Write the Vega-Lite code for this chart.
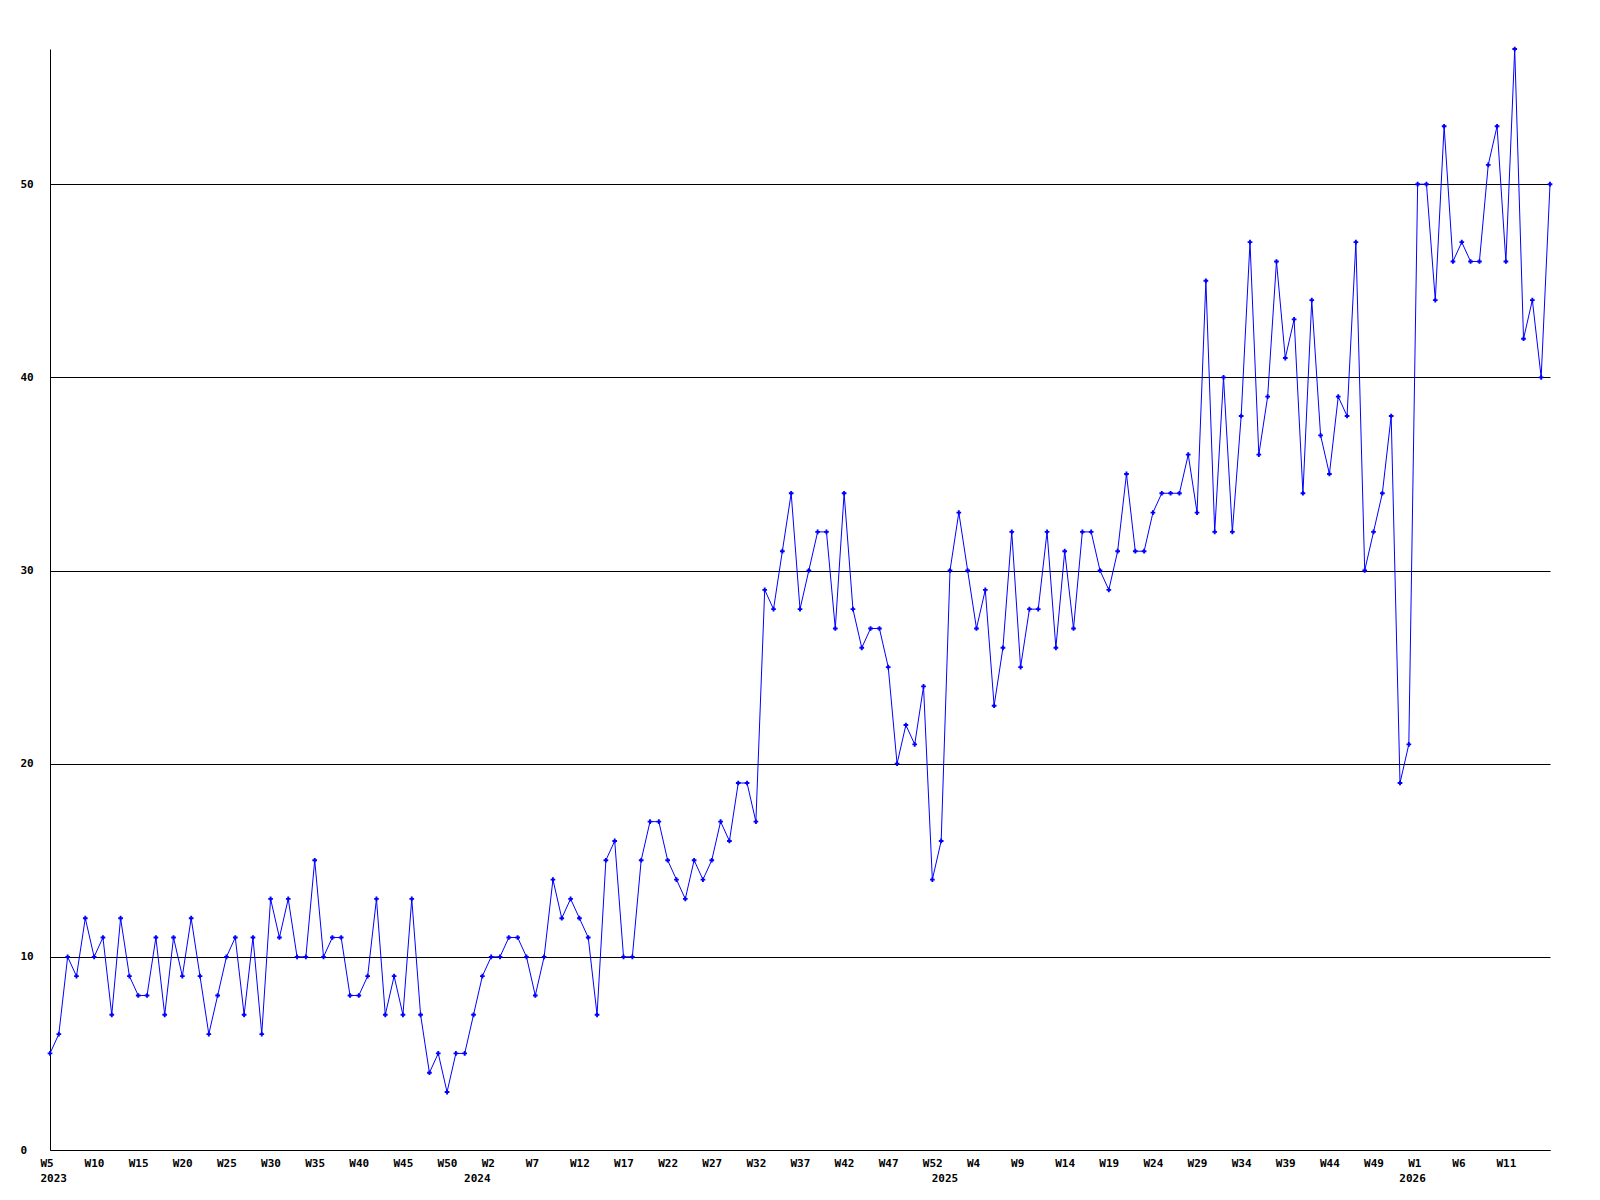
{
  "$schema": "https://vega.github.io/schema/vega-lite/v6.json",
  "width": 1500,
  "height": 1101,
  "autosize": "none",
  "padding": {"left": 50, "top": 49, "right": 50, "bottom": 50},
  "background": "white",
  "config": {"view": {"stroke": null}, "font": "DejaVu Sans Mono"},
  "datasets": {
    "weeks": [
      {"wk":"2023-W5","v":5},{"wk":"2023-W6","v":6},{"wk":"2023-W7","v":10},{"wk":"2023-W8","v":9},{"wk":"2023-W9","v":12},
      {"wk":"2023-W10","v":10},{"wk":"2023-W11","v":11},{"wk":"2023-W12","v":7},{"wk":"2023-W13","v":12},{"wk":"2023-W14","v":9},
      {"wk":"2023-W15","v":8},{"wk":"2023-W16","v":8},{"wk":"2023-W17","v":11},{"wk":"2023-W18","v":7},{"wk":"2023-W19","v":11},
      {"wk":"2023-W20","v":9},{"wk":"2023-W21","v":12},{"wk":"2023-W22","v":9},{"wk":"2023-W23","v":6},{"wk":"2023-W24","v":8},
      {"wk":"2023-W25","v":10},{"wk":"2023-W26","v":11},{"wk":"2023-W27","v":7},{"wk":"2023-W28","v":11},{"wk":"2023-W29","v":6},
      {"wk":"2023-W30","v":13},{"wk":"2023-W31","v":11},{"wk":"2023-W32","v":13},{"wk":"2023-W33","v":10},{"wk":"2023-W34","v":10},
      {"wk":"2023-W35","v":15},{"wk":"2023-W36","v":10},{"wk":"2023-W37","v":11},{"wk":"2023-W38","v":11},{"wk":"2023-W39","v":8},
      {"wk":"2023-W40","v":8},{"wk":"2023-W41","v":9},{"wk":"2023-W42","v":13},{"wk":"2023-W43","v":7},{"wk":"2023-W44","v":9},
      {"wk":"2023-W45","v":7},{"wk":"2023-W46","v":13},{"wk":"2023-W47","v":7},{"wk":"2023-W48","v":4},{"wk":"2023-W49","v":5},
      {"wk":"2023-W50","v":3},{"wk":"2023-W51","v":5},{"wk":"2023-W52","v":5},{"wk":"2023-W53","v":7},
      {"wk":"2024-W1","v":9},{"wk":"2024-W2","v":10},{"wk":"2024-W3","v":10},{"wk":"2024-W4","v":11},{"wk":"2024-W5","v":11},
      {"wk":"2024-W6","v":10},{"wk":"2024-W7","v":8},{"wk":"2024-W8","v":10},{"wk":"2024-W9","v":14},{"wk":"2024-W10","v":12},
      {"wk":"2024-W11","v":13},{"wk":"2024-W12","v":12},{"wk":"2024-W13","v":11},{"wk":"2024-W14","v":7},{"wk":"2024-W15","v":15},
      {"wk":"2024-W16","v":16},{"wk":"2024-W17","v":10},{"wk":"2024-W18","v":10},{"wk":"2024-W19","v":15},{"wk":"2024-W20","v":17},
      {"wk":"2024-W21","v":17},{"wk":"2024-W22","v":15},{"wk":"2024-W23","v":14},{"wk":"2024-W24","v":13},{"wk":"2024-W25","v":15},
      {"wk":"2024-W26","v":14},{"wk":"2024-W27","v":15},{"wk":"2024-W28","v":17},{"wk":"2024-W29","v":16},{"wk":"2024-W30","v":19},
      {"wk":"2024-W31","v":19},{"wk":"2024-W32","v":17},{"wk":"2024-W33","v":29},{"wk":"2024-W34","v":28},{"wk":"2024-W35","v":31},
      {"wk":"2024-W36","v":34},{"wk":"2024-W37","v":28},{"wk":"2024-W38","v":30},{"wk":"2024-W39","v":32},{"wk":"2024-W40","v":32},
      {"wk":"2024-W41","v":27},{"wk":"2024-W42","v":34},{"wk":"2024-W43","v":28},{"wk":"2024-W44","v":26},{"wk":"2024-W45","v":27},
      {"wk":"2024-W46","v":27},{"wk":"2024-W47","v":25},{"wk":"2024-W48","v":20},{"wk":"2024-W49","v":22},{"wk":"2024-W50","v":21},
      {"wk":"2024-W51","v":24},{"wk":"2024-W52","v":14},{"wk":"2024-W53","v":16},
      {"wk":"2025-W1","v":30},{"wk":"2025-W2","v":33},{"wk":"2025-W3","v":30},{"wk":"2025-W4","v":27},{"wk":"2025-W5","v":29},
      {"wk":"2025-W6","v":23},{"wk":"2025-W7","v":26},{"wk":"2025-W8","v":32},{"wk":"2025-W9","v":25},{"wk":"2025-W10","v":28},
      {"wk":"2025-W11","v":28},{"wk":"2025-W12","v":32},{"wk":"2025-W13","v":26},{"wk":"2025-W14","v":31},{"wk":"2025-W15","v":27},
      {"wk":"2025-W16","v":32},{"wk":"2025-W17","v":32},{"wk":"2025-W18","v":30},{"wk":"2025-W19","v":29},{"wk":"2025-W20","v":31},
      {"wk":"2025-W21","v":35},{"wk":"2025-W22","v":31},{"wk":"2025-W23","v":31},{"wk":"2025-W24","v":33},{"wk":"2025-W25","v":34},
      {"wk":"2025-W26","v":34},{"wk":"2025-W27","v":34},{"wk":"2025-W28","v":36},{"wk":"2025-W29","v":33},{"wk":"2025-W30","v":45},
      {"wk":"2025-W31","v":32},{"wk":"2025-W32","v":40},{"wk":"2025-W33","v":32},{"wk":"2025-W34","v":38},{"wk":"2025-W35","v":47},
      {"wk":"2025-W36","v":36},{"wk":"2025-W37","v":39},{"wk":"2025-W38","v":46},{"wk":"2025-W39","v":41},{"wk":"2025-W40","v":43},
      {"wk":"2025-W41","v":34},{"wk":"2025-W42","v":44},{"wk":"2025-W43","v":37},{"wk":"2025-W44","v":35},{"wk":"2025-W45","v":39},
      {"wk":"2025-W46","v":38},{"wk":"2025-W47","v":47},{"wk":"2025-W48","v":30},{"wk":"2025-W49","v":32},{"wk":"2025-W50","v":34},
      {"wk":"2025-W51","v":38},{"wk":"2025-W52","v":19},{"wk":"2025-W53","v":21},
      {"wk":"2026-W1","v":50},{"wk":"2026-W2","v":50},{"wk":"2026-W3","v":44},{"wk":"2026-W4","v":53},{"wk":"2026-W5","v":46},
      {"wk":"2026-W6","v":47},{"wk":"2026-W7","v":46},{"wk":"2026-W8","v":46},{"wk":"2026-W9","v":51},{"wk":"2026-W10","v":53},
      {"wk":"2026-W11","v":46},{"wk":"2026-W12","v":57},{"wk":"2026-W13","v":42},{"wk":"2026-W14","v":44},{"wk":"2026-W15","v":40},
      {"wk":"2026-W16","v":50}
    ]
  },
  "data": {"name": "weeks"},
  "encoding": {
    "x": {
      "field": "wk",
      "type": "ordinal",
      "sort": null,
      "scale": {"type": "point", "padding": 0},
      "axis": {
        "title": null,
        "values": ["2023-W5","2023-W10","2023-W15","2023-W20","2023-W25","2023-W30","2023-W35","2023-W40","2023-W45","2023-W50","2023-W53",
                   "2024-W2","2024-W7","2024-W12","2024-W17","2024-W22","2024-W27","2024-W32","2024-W37","2024-W42","2024-W47","2024-W52","2024-W53",
                   "2025-W4","2025-W9","2025-W14","2025-W19","2025-W24","2025-W29","2025-W34","2025-W39","2025-W44","2025-W49","2025-W53",
                   "2026-W1","2026-W6","2026-W11"],
        "labelExpr": "split(datum.value, '-')[1] == 'W53' ? ['', '' + (toNumber(split(datum.value, '-')[0]) + 1)] : (datum.value == '2023-W5' ? ['W5', '2023'] : split(datum.value, '-')[1])",
        "ticks": false,
        "tickSize": 0,
        "grid": false,
        "domainColor": "#000000",
        "domainWidth": 1,
        "labelAngle": 0,
        "labelAlign": "left",
        "labelOffset": -10,
        "labelFont": "DejaVu Sans Mono",
        "labelFontWeight": "bold",
        "labelFontSize": 11,
        "labelColor": "#000000",
        "labelPadding": 7,
        "labelLineHeight": 15,
        "labelBaseline": "top",
        "labelOverlap": false,
        "labelFlush": false,
        "labelBound": false
      }
    },
    "y": {
      "field": "v",
      "type": "quantitative",
      "scale": {"domain": [0, 57], "nice": false, "zero": true},
      "axis": {
        "title": null,
        "values": [0, 10, 20, 30, 40, 50],
        "ticks": false,
        "tickSize": 0,
        "grid": true,
        "gridColor": "#000000",
        "gridOpacity": 1,
        "gridWidth": 1,
        "domainColor": "#000000",
        "domainWidth": 1,
        "labelAlign": "left",
        "labelBaseline": "middle",
        "labelPadding": 30,
        "labelFont": "DejaVu Sans Mono",
        "labelFontWeight": "bold",
        "labelFontSize": 11,
        "labelColor": "#000000",
        "labelFlush": false,
        "labelOverlap": false
      }
    }
  },
  "layer": [
    {"mark": {"type": "line", "color": "#0000ff", "strokeWidth": 1}},
    {"mark": {"type": "point", "shape": "cross", "filled": true, "color": "#0000ff", "size": 22, "opacity": 1}}
  ]
}
